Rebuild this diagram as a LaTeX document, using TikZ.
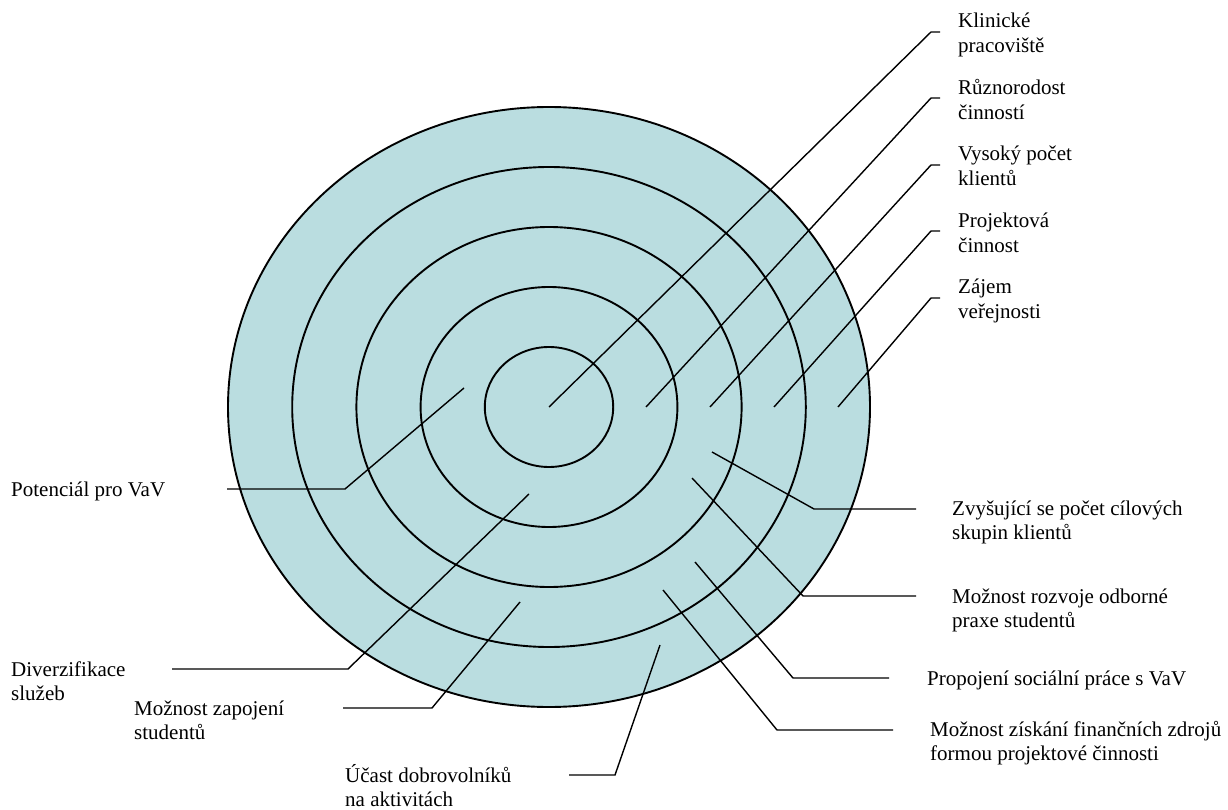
\documentclass[tikz,border=0pt]{standalone}
\usepackage{fontspec}
\setmainfont{Liberation Serif}
\definecolor{ringblue}{RGB}{186,221,224}
\newcommand{\twolines}[2]{\begin{tabular}[t]{@{}l@{}}#1\\#2\end{tabular}}
\begin{document}
\begin{tikzpicture}[x=1pt,y=-1pt,
  ring/.style={draw=black,line width=1.9pt},
  leader/.style={draw=black,line width=1.4pt,line join=miter},
  lbl/.style={anchor=base west,inner sep=0pt,font=\fontsize{21}{24.8}\selectfont}]
\useasboundingbox (0,0) rectangle (1228,810);

% target rings
\coordinate (ctr) at (549,407);
\fill[ringblue] (ctr) ellipse [x radius=321, y radius=300];
\foreach \k in {1,...,5}
  \draw[ring] (ctr) ellipse [x radius={64.2*\k}, y radius={60*\k}];

% labels
\node[lbl] (klin) at (958,28)  {\twolines{Klinické}{pracoviště}};
\node[lbl] (ruzn) at (958,95)  {\twolines{Různorodost}{činností}};
\node[lbl] (vyso) at (958,161) {\twolines{Vysoký počet}{klientů}};
\node[lbl] (proj) at (958,228) {\twolines{Projektová}{činnost}};
\node[lbl] (zaje) at (958,294) {\twolines{Zájem}{veřejnosti}};
\node[lbl] (zvys) at (952,515) {\twolines{Zvyšující se počet cílových}{skupin klientů}};
\node[lbl] (rozv) at (952,603) {\twolines{Možnost rozvoje odborné}{praxe studentů}};
\node[lbl] (prop) at (927,685) {Propojení sociální práce s VaV};
\node[lbl] (fina) at (930,736) {\twolines{Možnost získání finančních zdrojů}{formou projektové činnosti}};
\node[lbl] (pote) at (11,496)  {Potenciál pro VaV};
\node[lbl] (dive) at (11,676)  {\twolines{Diverzifikace}{služeb}};
\node[lbl] (zapo) at (134,715) {\twolines{Možnost zapojení}{studentů}};
\node[lbl] (ucas) at (345,782) {\twolines{Účast dobrovolníků}{na aktivitách}};

% leader points: inner end, bend, outer end
\coordinate (klinA) at (549,407); \coordinate (klinB) at (931,32);  \coordinate (klinC) at (940,32);
\coordinate (ruznA) at (646,407); \coordinate (ruznB) at (931,98);  \coordinate (ruznC) at (940,98);
\coordinate (vysoA) at (710,407); \coordinate (vysoB) at (931,165); \coordinate (vysoC) at (940,165);
\coordinate (projA) at (774,407); \coordinate (projB) at (931,231); \coordinate (projC) at (940,231);
\coordinate (zajeA) at (838,407); \coordinate (zajeB) at (931,298); \coordinate (zajeC) at (940,298);
\coordinate (zvysA) at (712,452); \coordinate (zvysB) at (814,509); \coordinate (zvysC) at (916,509);
\coordinate (rozvA) at (692,478); \coordinate (rozvB) at (803,596); \coordinate (rozvC) at (916,596);
\coordinate (propA) at (695,562); \coordinate (propB) at (793,678); \coordinate (propC) at (889,678);
\coordinate (finaA) at (663,590); \coordinate (finaB) at (777,730); \coordinate (finaC) at (893,730);
\coordinate (poteA) at (464,388); \coordinate (poteB) at (345,489); \coordinate (poteC) at (227,489);
\coordinate (diveA) at (529,494); \coordinate (diveB) at (348,669); \coordinate (diveC) at (172,669);
\coordinate (zapoA) at (520,602); \coordinate (zapoB) at (432,708); \coordinate (zapoC) at (343,708);
\coordinate (ucasA) at (660,645); \coordinate (ucasB) at (615,775); \coordinate (ucasC) at (569,775);

\foreach \n in {klin,ruzn,vyso,proj,zaje,zvys,rozv,prop,fina,pote,dive,zapo,ucas}
  \draw[leader] (\n A) -- (\n B) -- (\n C);
\end{tikzpicture}
\end{document}
